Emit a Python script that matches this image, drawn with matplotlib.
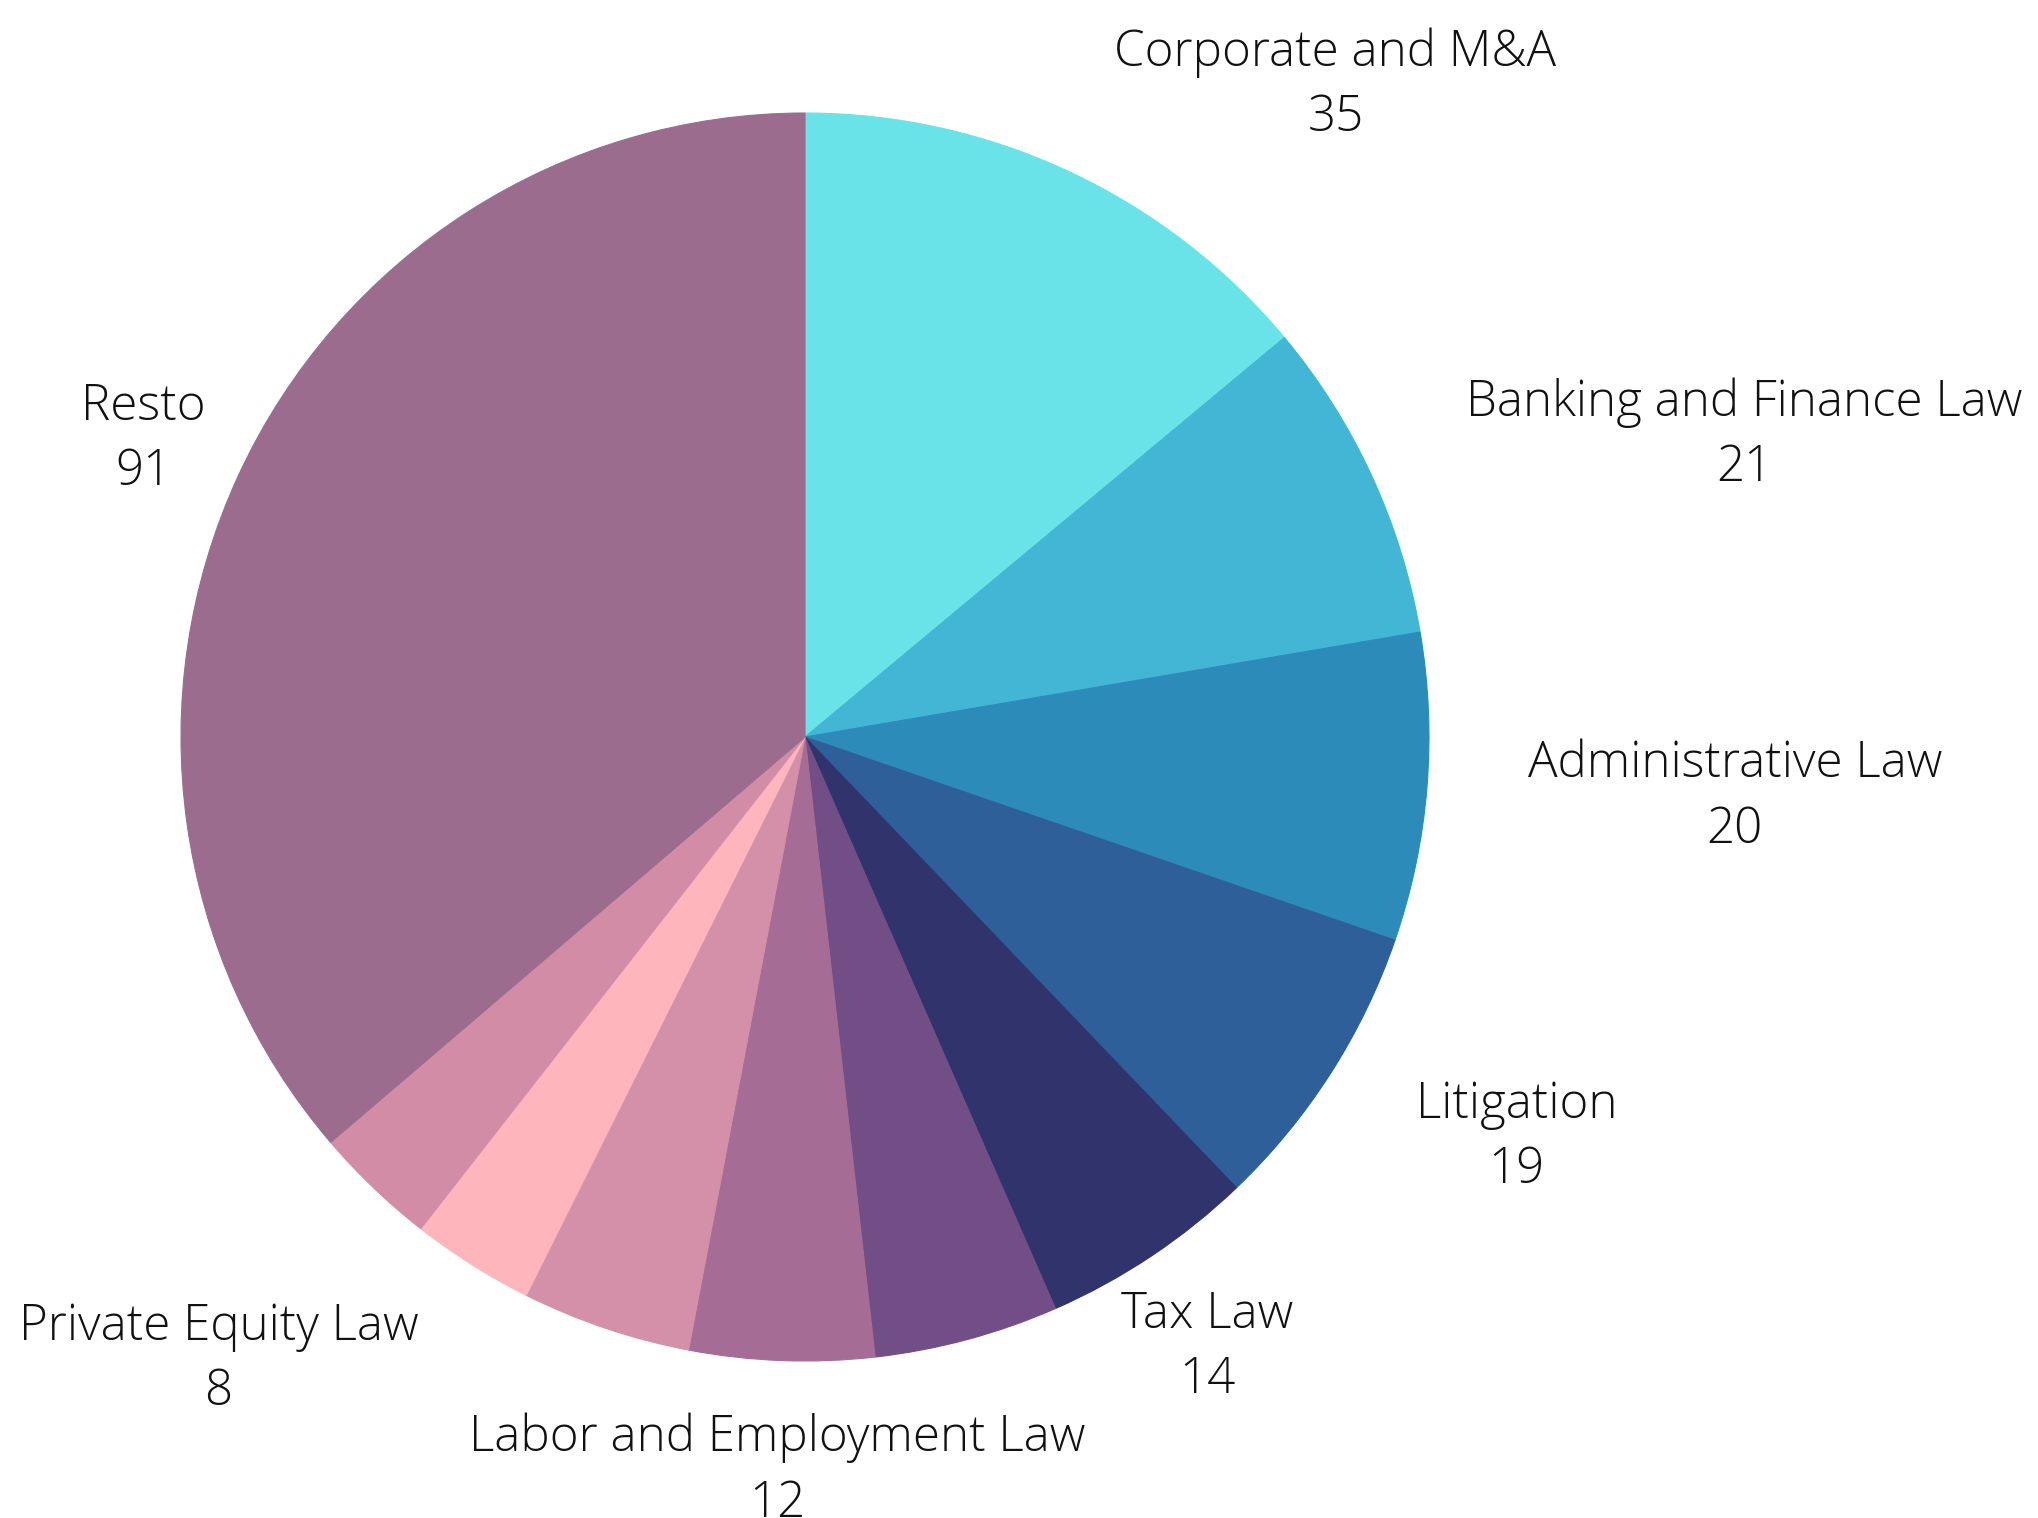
import numpy as np
import matplotlib
matplotlib.use("Agg")
import matplotlib.pyplot as plt

# slices clockwise from 12 o'clock
categories = [
    "Corporate and M&A",
    "Banking and Finance Law",
    "Administrative Law",
    "Litigation",
    "Tax Law",
    "",
    "Labor and Employment Law",
    "",
    "",
    "Private Equity Law",
    "Resto",
]
values = [35, 21, 20, 19, 14, 12, 12, 11, 8, 8, 91]
colors = [
    "#6ae3e8", "#42b6d4", "#2d8bba", "#2e5f98", "#30336c", "#724e86",
    "#a56c95", "#d48fa9", "#feb5bb", "#d38ca6", "#9c6c8e",
]

# label block centres, in pie radii from the centre
label_pos = {
    "Corporate and M&A": (0.85, 1.045),
    "Banking and Finance Law": (1.505, 0.484),
    "Administrative Law": (1.49, -0.096),
    "Litigation": (1.14, -0.642),
    "Tax Law": (0.645, -0.978),
    "Labor and Employment Law": (-0.045, -1.176),
    "Private Equity Law": (-0.94, -0.998),
    "Resto": (-1.06, 0.477),
}

W, H = 2038, 1518
cx, cy, r = 805, 737, 624

fig = plt.figure(figsize=(W / 100, H / 100), dpi=100)
ax = fig.add_axes([(cx - r) / W, (H - cy - r) / H, 2 * r / W, 2 * r / H])
wedges, _ = ax.pie(
    values,
    colors=colors,
    startangle=90,
    counterclock=False,
    radius=1,
    wedgeprops=dict(linewidth=0.8),
)
for w, c in zip(wedges, colors):
    w.set_edgecolor(c)
ax.set_xlim(-1, 1)
ax.set_ylim(-1, 1)
ax.axis("off")

for name, val in zip(categories, values):
    if not name:
        continue
    x, y = label_pos[name]
    ax.text(x, y, f"{name}\n{val}", ha="center", va="center",
            fontsize=35.5, family="Open Sans", fontweight="light",
            color="#111111", linespacing=1.4)

fig.savefig("out.png", dpi=100, facecolor="white")
